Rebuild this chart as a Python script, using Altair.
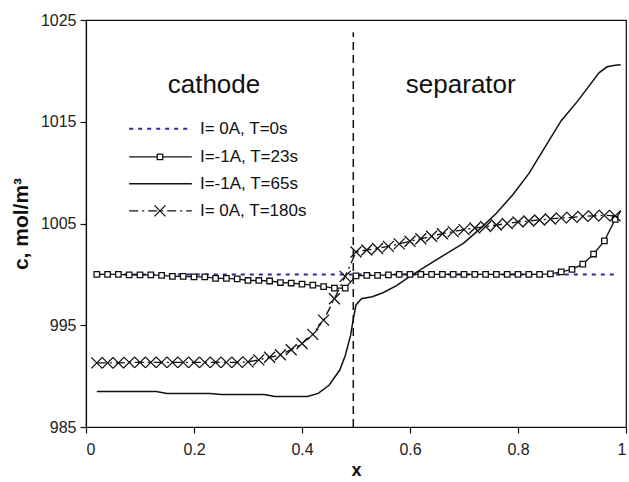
import altair as alt
import pandas as pd

FONT = "Liberation Sans"

# ---------------- data ----------------
grid_x = [0.02, 0.04, 0.06, 0.08, 0.10, 0.12, 0.14, 0.16, 0.18, 0.20,
          0.22, 0.24, 0.26, 0.28, 0.30, 0.32, 0.34, 0.36, 0.38, 0.40,
          0.42, 0.44, 0.46, 0.48, 0.50, 0.52, 0.54, 0.56, 0.58, 0.60,
          0.62, 0.64, 0.66, 0.68, 0.70, 0.72, 0.74, 0.76, 0.78, 0.80,
          0.82, 0.84, 0.86, 0.88, 0.90, 0.92, 0.94, 0.96, 0.98]

# I= 0A, T=0s
t0_x = [0.02, 0.985]
t0_c = [1000.0, 1000.0]

# I=-1A, T=23s (squares)
t23_x = grid_x + [0.99]
t23_c = [1000.0, 1000.0, 1000.0, 999.95, 999.95, 999.95, 999.9, 999.8, 999.8, 999.75,
         999.75, 999.6, 999.6, 999.55, 999.4, 999.4, 999.35, 999.2, 999.15, 999.05,
         998.95, 998.8, 998.65, 998.65, 999.85, 999.9, 999.9, 999.95, 1000.0, 1000.0,
         1000.0, 1000.0, 1000.0, 1000.0, 1000.0, 1000.0, 1000.0, 1000.0, 1000.0, 1000.0,
         1000.0, 1000.0, 1000.05, 1000.25, 1000.5, 1001.0, 1002.0, 1003.3, 1005.4,
         1006.2]

# I=-1A, T=65s (plain line)
t65_x = [0.02, 0.13, 0.15, 0.23, 0.25, 0.33, 0.35, 0.41, 0.43, 0.45,
         0.47, 0.48, 0.49, 0.495, 0.50, 0.51, 0.53, 0.55, 0.575, 0.60,
         0.63, 0.66, 0.70, 0.73, 0.76, 0.79, 0.82, 0.85, 0.88, 0.91,
         0.93, 0.95, 0.965, 0.98, 0.99]
t65_c = [988.5, 988.5, 988.3, 988.3, 988.2, 988.2, 988.0, 988.0, 988.3, 989.1,
         990.6, 992.0, 994.0, 995.6, 997.0, 997.6, 997.8, 998.2, 998.9, 999.8,
         1000.8, 1001.8, 1003.1, 1004.5, 1006.0, 1007.8, 1009.9, 1012.5, 1015.1, 1017.0,
         1018.4, 1019.8, 1020.4, 1020.55, 1020.6]

# I= 0A, T=180s (crosses)
t180_x = grid_x
t180_c = [991.3, 991.3, 991.3, 991.35, 991.35, 991.35, 991.35, 991.35, 991.35, 991.35,
          991.35, 991.35, 991.35, 991.35, 991.4, 991.6, 991.85, 992.1, 992.6, 993.2,
          994.1, 995.5, 997.6, 999.8, 1002.2, 1002.4, 1002.55, 1002.75, 1003.0, 1003.25,
          1003.5, 1003.75, 1004.0, 1004.2, 1004.4, 1004.55, 1004.7, 1004.85, 1005.0, 1005.15,
          1005.25, 1005.35, 1005.45, 1005.55, 1005.6, 1005.7, 1005.75, 1005.8, 1005.75]

boundary_x = [0.495]
boundary_c = [985.0]
boundary_c2 = [1023.8]

region_labels = ["cathode", "separator"]
region_x = [0.237, 0.694]
region_c = [1018.6, 1018.6]

legend_labels = ["I= 0A, T=0s", "I=-1A, T=23s", "I=-1A, T=65s", "I= 0A, T=180s"]
legend_c = [1014.3, 1011.55, 1008.9, 1006.24]
legend_x0 = 0.08
legend_x1 = 0.196
legend_xm = 0.137
legend_xt = 0.211

x_ticks = [0, 0.2, 0.4, 0.6, 0.8, 1]
y_ticks = [985, 995, 1005, 1015, 1025]

# ---------------- encodings ----------------
xs = alt.Scale(domain=[0, 1], nice=False, zero=False)
ys = alt.Scale(domain=[985, 1025], nice=False, zero=False)
xaxis = alt.Axis(values=x_ticks, format="~g", grid=False, tickSize=6,
                 labelPadding=8, titlePadding=4, titleFontSize=18)
yaxis = alt.Axis(values=y_ticks, format="d", grid=False, tickSize=6,
                 labelPadding=4, titlePadding=9, titleFontSize=21)


def X(f):
    return alt.X(f"{f}:Q", scale=xs, axis=xaxis, title="x")


def Y(f):
    return alt.Y(f"{f}:Q", scale=ys, axis=yaxis, title="c, mol/m³")


def df(xv, cv):
    return pd.DataFrame({"x": xv, "c": cv})


BLACK = "#111111"
BLUE = "#2b2b9c"
XPATH = "M-1,-1L1,1M-1,1L1,-1"

layers = []

# T=0 dotted blue
layers.append(alt.Chart(df(t0_x, t0_c)).mark_line(
    color=BLUE, strokeWidth=2, strokeDash=[4, 5]).encode(x=X("x"), y=Y("c")))

# T=65 solid
layers.append(alt.Chart(df(t65_x, t65_c)).mark_line(
    color=BLACK, strokeWidth=1.5).encode(x=X("x"), y=Y("c")))

# T=23 line + squares
d23 = df(t23_x, t23_c)
layers.append(alt.Chart(d23).mark_line(color=BLACK, strokeWidth=1.3).encode(x=X("x"), y=Y("c")))
layers.append(alt.Chart(d23).transform_filter("datum.x <= 0.981").mark_point(
    shape="square", size=30, filled=True, fill="white", stroke=BLACK, strokeWidth=1.3,
    opacity=1).encode(x=X("x"), y=Y("c")))

# T=180 dash-dot + crosses
d180 = df(t180_x, t180_c)
layers.append(alt.Chart(d180).mark_line(
    color=BLACK, strokeWidth=1.3, strokeDash=[9, 4, 2, 4]).encode(x=X("x"), y=Y("c")))
layers.append(alt.Chart(d180).mark_point(
    shape=XPATH, size=121, filled=False, stroke=BLACK, strokeWidth=1.3,
    opacity=1).encode(x=X("x"), y=Y("c")))

# boundary dashed line
layers.append(alt.Chart(pd.DataFrame({"x": boundary_x, "c": boundary_c, "c2": boundary_c2}))
              .mark_rule(color=BLACK, strokeWidth=1.5, strokeDash=[8, 5])
              .encode(x=X("x"), y=Y("c"), y2=alt.Y2("c2:Q")))

# region labels
layers.append(alt.Chart(pd.DataFrame({"x": region_x, "c": region_c, "t": region_labels}))
              .mark_text(font=FONT, fontSize=26, align="center", baseline="middle", color=BLACK)
              .encode(x=X("x"), y=Y("c"), text="t:N"))

# legend
styles = [
    dict(color=BLUE, strokeWidth=2, strokeDash=[4, 5]),
    dict(color=BLACK, strokeWidth=1.3),
    dict(color=BLACK, strokeWidth=1.5),
    dict(color=BLACK, strokeWidth=1.3, strokeDash=[9, 4, 2, 4]),
]
for i, lab in enumerate(legend_labels):
    ld = pd.DataFrame({"x": [legend_x0], "x1": [legend_x1], "xm": [legend_xm],
                       "xt": [legend_xt], "c": [legend_c[i]], "t": [lab]})
    layers.append(alt.Chart(ld).mark_rule(**styles[i]).encode(
        x=X("x"), x2=alt.X2("x1:Q"), y=Y("c")))
    if i == 1:
        layers.append(alt.Chart(ld).mark_point(
            shape="square", size=30, filled=True, fill="white", stroke=BLACK,
            strokeWidth=1.3, opacity=1).encode(x=X("xm"), y=Y("c")))
    if i == 3:
        layers.append(alt.Chart(ld).mark_point(
            shape=XPATH, size=121, filled=False, stroke=BLACK, strokeWidth=1.3,
            opacity=1).encode(x=X("xm"), y=Y("c")))
    layers.append(alt.Chart(ld).mark_text(
        font=FONT, fontSize=17, align="left", baseline="middle", color=BLACK).encode(
        x=X("xt"), y=Y("c"), text="t:N"))

chart = alt.layer(*layers).properties(
    width=540, height=407,
    autosize=alt.AutoSizeParams(type="none"),
    padding={"left": 86, "top": 20, "right": 3, "bottom": 55},
    background="white",
).configure_view(
    stroke=BLACK, strokeWidth=1.2
).configure_axis(
    domainColor=BLACK, tickColor=BLACK, domainWidth=1.2, tickWidth=1.2,
    labelFont=FONT, labelFontSize=16, labelColor="#222222",
    titleFont=FONT, titleFontWeight="bold", titleColor=BLACK,
)

chart.save("out.html", embed_options={"renderer": "svg", "actions": False})
